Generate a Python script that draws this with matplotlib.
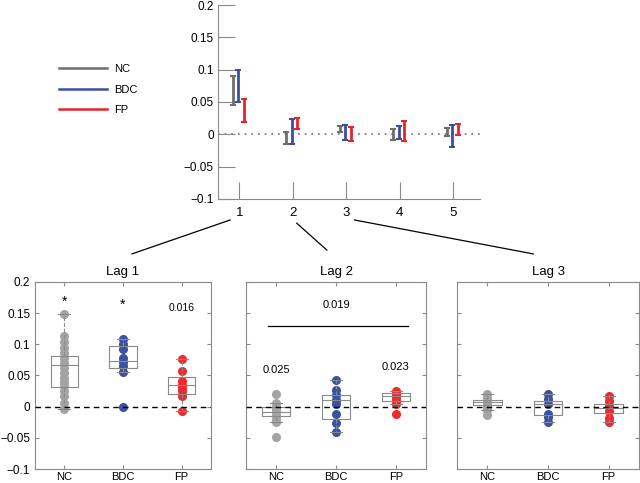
import numpy as np
import matplotlib
matplotlib.use("Agg")
from matplotlib import pyplot as plt
from matplotlib.lines import Line2D
from matplotlib.patches import ConnectionPatch
from matplotlib.ticker import FuncFormatter

plt.rcParams["font.family"] = ["Liberation Sans", "DejaVu Sans"]

# top panel: CI ranges per lag
lags = [1, 2, 3, 4, 5]
nc_lo = [0.046, -0.015, 0.003, -0.008, -0.003]
nc_hi = [0.090, 0.003, 0.013, 0.008, 0.010]
bdc_lo = [0.050, -0.015, -0.009, -0.007, -0.019]
bdc_hi = [0.099, 0.024, 0.014, 0.013, 0.014]
fp_lo = [0.019, 0.008, -0.010, -0.010, -0.001]
fp_hi = [0.055, 0.026, 0.011, 0.021, 0.016]

groups = ["NC", "BDC", "FP"]

# bottom panels: individual values
lag1_pts = [
    [0.149, 0.114, 0.103, 0.094, 0.086, 0.078, 0.070, 0.062, 0.054, 0.046,
     0.040, 0.033, 0.025, 0.017, 0.006, -0.003],
    [0.109, 0.101, 0.092, 0.078, 0.072, 0.065, 0.055, 0.0],
    [0.077, 0.058, 0.041, 0.035, 0.030, 0.025, 0.017, -0.007],
]
lag2_pts = [
    [0.021, 0.006, 0.0, -0.004, -0.009, -0.014, -0.019, -0.025, -0.048],
    [0.042, 0.026, 0.018, 0.010, 0.005, -0.012, -0.026, -0.040],
    [0.025, 0.021, 0.017, 0.013, 0.009, 0.004, -0.012],
]
lag3_pts = [
    [0.021, 0.014, 0.008, 0.003, -0.002, -0.006, -0.014],
    [0.021, 0.013, 0.005, -0.011, -0.017, -0.024],
    [0.017, 0.009, 0.001, -0.007, -0.018, -0.025],
]
# box stats: (q1, med, q3, whislo, whishi)
lag1_box = [(0.032, 0.067, 0.081, -0.003, 0.149),
            (0.062, 0.074, 0.098, 0.055, 0.109),
            (0.021, 0.034, 0.048, -0.007, 0.077)]
lag2_box = [(-0.0145, -0.009, -0.001, -0.025, 0.006),
            (-0.020, 0.010, 0.019, -0.040, 0.042),
            (0.009, 0.017, 0.022, 0.004, 0.025)]
lag3_box = [(0.003, 0.007, 0.011, -0.006, 0.021),
            (-0.013, 0.005, 0.009, -0.024, 0.021),
            (-0.010, -0.002, 0.004, -0.025, 0.017)]

colors_line = ["#6e6e6e", "#3a4f9f", "#e3262d"]
colors_pt = ["#a3a3a3", "#3a52a4", "#ee2a2e"]
edge = "#8a8a8a"


def fmt(v, _):
    s = f"{v:g}"
    if abs(v) < 1e-9:
        s = "0"
    return s.replace("-", "\u2212")


fig = plt.figure(figsize=(6.4, 4.83), dpi=100)

# ---- top panel
ax = fig.add_axes([218 / 640, 1 - 199 / 483, 262 / 640, 194 / 483])
offsets = [-0.12, -0.02, 0.08]
los = [nc_lo, bdc_lo, fp_lo]
his = [nc_hi, bdc_hi, fp_hi]
for g, off, lo, hi, c in zip(groups, offsets, los, his, colors_line):
    lo = np.array(lo)
    hi = np.array(hi)
    x = np.array(lags) + off
    ax.errorbar(x, (lo + hi) / 2, yerr=(hi - lo) / 2, fmt="none", ecolor=c,
                elinewidth=2.0, capsize=2, capthick=1.5)
ax.axhline(0, color="#707070", ls=(0, (1, 3)), lw=1.2, zorder=0)
ax.set_xlim(0.6, 5.5)
ax.set_ylim(-0.1, 0.2)
ax.set_xticks(lags)
ax.set_yticks(np.arange(-0.1, 0.201, 0.05))
ax.yaxis.set_major_formatter(FuncFormatter(fmt))
ax.spines["top"].set_visible(False)
ax.spines["right"].set_visible(False)
for s in ["left", "bottom"]:
    ax.spines[s].set_color(edge)
ax.tick_params(axis="x", direction="in", length=12, color=edge, labelsize=9.5, pad=6)
ax.tick_params(axis="y", direction="in", length=12, color=edge, labelsize=8.5, pad=3)

handles = [Line2D([], [], color=c, lw=1.8) for c in colors_line]
fig.legend(handles, groups, loc="upper left", bbox_to_anchor=(59 / 640, 1 - 64 / 483),
           frameon=False, borderaxespad=0, borderpad=0, handlelength=4.3,
           handletextpad=0.65, labelspacing=0.95, fontsize=8)

# ---- bottom panels
lefts = [35, 246, 457]
widths = [176, 180, 182]
titles = ["Lag 1", "Lag 2", "Lag 3"]
pts_all = [lag1_pts, lag2_pts, lag3_pts]
box_all = [lag1_box, lag2_box, lag3_box]
bottom_axes = []
for i in range(3):
    bx = fig.add_axes([lefts[i] / 640, 1 - 469 / 483, widths[i] / 640, 187 / 483])
    bottom_axes.append(bx)
    for j in range(3):
        y = pts_all[i][j]
        bx.plot(np.full(len(y), j + 1), y, "o", color=colors_pt[j], ms=5.5,
                mec=colors_pt[j], zorder=2)
    stats = []
    for q1, med, q3, lo, hi in box_all[i]:
        stats.append(dict(med=med, q1=q1, q3=q3, whislo=lo, whishi=hi, fliers=[]))
    bx.bxp(stats, positions=[1, 2, 3], widths=0.47, showfliers=False,
           boxprops=dict(color=edge, lw=0.8),
           medianprops=dict(color=edge, lw=0.8),
           whiskerprops=dict(color=edge, lw=0.8, ls="--"),
           capprops=dict(color=edge, lw=0.8), capwidths=0.2, zorder=3)
    bx.axhline(0, color="black", ls=(0, (4, 3)), lw=1.0, zorder=4)
    bx.set_xlim(0.5, 3.5)
    bx.set_ylim(-0.1, 0.2)
    bx.set_xticks([1, 2, 3])
    bx.set_xticklabels(groups)
    bx.set_yticks(np.arange(-0.1, 0.201, 0.05))
    bx.yaxis.set_major_formatter(FuncFormatter(fmt))
    for s in bx.spines.values():
        s.set_color(edge)
        s.set_linewidth(0.8)
    bx.tick_params(direction="in", length=3, color=edge, top=True, right=True,
                   labelsize=8.5)
    bx.tick_params(axis="x", labelsize=8, pad=2.5)
    if i > 0:
        bx.tick_params(axis="y", labelleft=False)
    bx.set_title(titles[i], fontsize=9.5, pad=5)

a1, a2, a3 = bottom_axes
a1.text(1, 0.168, "*", ha="center", va="center", fontsize=10)
a1.text(2, 0.164, "*", ha="center", va="center", fontsize=10)
a1.text(3, 0.158, "0.016", ha="center", va="center", fontsize=7.5)
a2.text(1, 0.059, "0.025", ha="center", va="center", fontsize=8)
a2.text(3, 0.063, "0.023", ha="center", va="center", fontsize=8)
a2.text(2, 0.163, "0.019", ha="center", va="center", fontsize=8)
a2.plot([0.87, 3.2], [0.129, 0.129], color="black", lw=0.9)

# connectors from lag ticks to panels
starts = [(0.83, -0.108), (2.07, -0.124), (3.15, -0.108)]
ends = [(0.55, 1.15), (0.45, 1.17), (0.42, 1.15)]
for st, en, bx in zip(starts, ends, bottom_axes):
    con = ConnectionPatch(xyA=st, coordsA=ax.get_xaxis_transform(),
                          xyB=en, coordsB=bx.transAxes, color="black", lw=0.9)
    fig.add_artist(con)

fig.savefig("out.png", dpi=100)
